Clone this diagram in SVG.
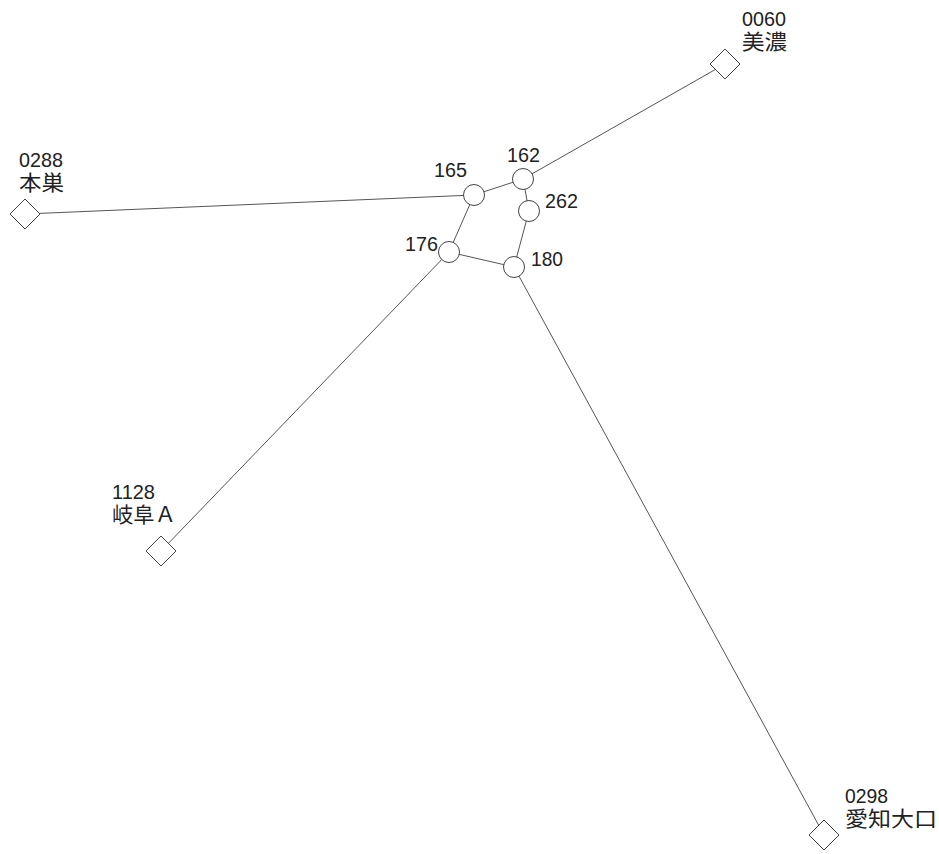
<svg xmlns="http://www.w3.org/2000/svg" width="939" height="854" viewBox="0 0 939 854">
<style>
.e{stroke:#555;stroke-width:1;fill:none}
.n{fill:#fff;stroke:#444;stroke-width:1}
.t{font-family:"Liberation Sans","Noto Sans CJK JP",sans-serif;font-size:20.5px;fill:#222}
.k{font-family:"Liberation Sans","Noto Sans CJK JP",sans-serif;font-size:21px;fill:#222}
</style>
<rect width="939" height="854" fill="#fff"/>
<g id="connectors">
<line class="e" x1="25" y1="214" x2="474" y2="195"/>
<line class="e" x1="474" y1="195" x2="523" y2="179"/>
<line class="e" x1="474" y1="195" x2="449" y2="252"/>
<line class="e" x1="523" y1="179" x2="529" y2="211"/>
<line class="e" x1="529" y1="211" x2="514" y2="267"/>
<line class="e" x1="449" y1="252" x2="514" y2="267"/>
<line class="e" x1="523" y1="179" x2="725" y2="64"/>
<line class="e" x1="449" y1="252" x2="161" y2="551"/>
<line class="e" x1="514" y1="267" x2="824" y2="835"/>
</g>
<g id="n165"><circle class="n" cx="474" cy="195" r="10.5"/><text class="t" x="434" y="177" textLength="33" lengthAdjust="spacingAndGlyphs">165</text></g>
<g id="n162"><circle class="n" cx="523" cy="179" r="10.5"/><text class="t" x="507" y="162" textLength="33" lengthAdjust="spacingAndGlyphs">162</text></g>
<g id="n262"><circle class="n" cx="529" cy="211" r="10.5"/><text class="t" x="545" y="208" textLength="33" lengthAdjust="spacingAndGlyphs">262</text></g>
<g id="n176"><circle class="n" cx="449" cy="252" r="10.5"/><text class="t" x="405" y="251" textLength="33" lengthAdjust="spacingAndGlyphs">176</text></g>
<g id="n180"><circle class="n" cx="514" cy="267" r="10.5"/><text class="t" x="531" y="266" textLength="32" lengthAdjust="spacingAndGlyphs">180</text></g>
<g id="n0288"><polygon class="n" points="25,199 40,214 25,229 10,214"/><text class="t" x="19" y="167" textLength="44" lengthAdjust="spacingAndGlyphs">0288</text><text class="k" x="19" y="190" textLength="45" lengthAdjust="spacingAndGlyphs">本巣</text></g>
<g id="n0060"><polygon class="n" points="725,49 740,64 725,79 710,64"/><text class="t" x="742" y="26" textLength="44" lengthAdjust="spacingAndGlyphs">0060</text><text class="k" x="742" y="49" textLength="45" lengthAdjust="spacingAndGlyphs">美濃</text></g>
<g id="n1128"><polygon class="n" points="161,536 176,551 161,566 146,551"/><text class="t" x="112" y="499" textLength="43" lengthAdjust="spacingAndGlyphs">1128</text><text class="k" x="112" y="522" textLength="64" lengthAdjust="spacingAndGlyphs">岐阜Ａ</text></g>
<g id="n0298"><polygon class="n" points="824,820 839,835 824,850 809,835"/><text class="t" x="845" y="803" textLength="43" lengthAdjust="spacingAndGlyphs">0298</text><text class="k" x="845" y="826" textLength="92" lengthAdjust="spacingAndGlyphs">愛知大口</text></g>
</svg>
